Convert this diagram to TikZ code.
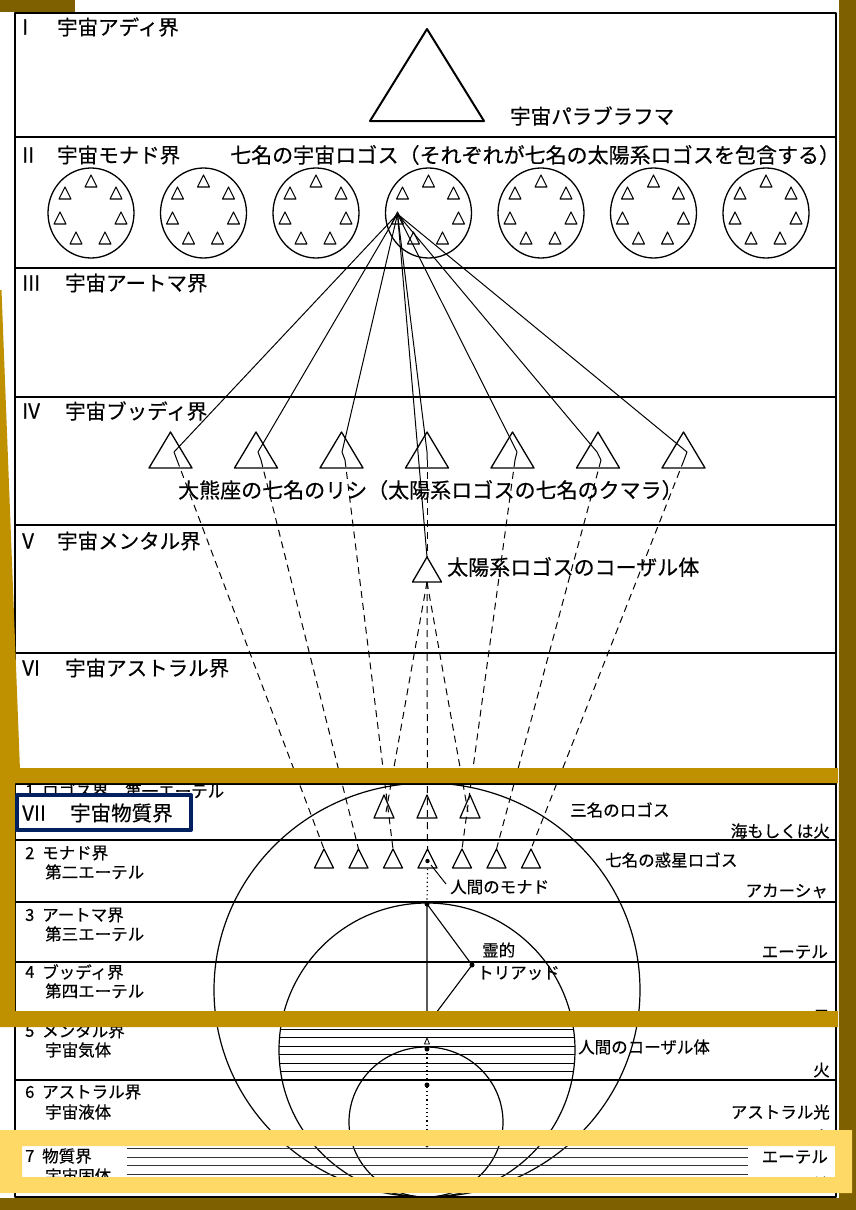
\documentclass[tikz,border=0pt]{standalone}
\usepackage{fontspec}
\setmainfont{Noto Sans CJK JP}[FakeBold=0.4]
\definecolor{gold}{HTML}{BF9000}
\definecolor{olivebd}{HTML}{7F6000}
\definecolor{ylw}{HTML}{FFD966}
\definecolor{navybx}{HTML}{002060}
\newcommand\mytri[5]{% name, cx, apex y, half width, height
  \coordinate (#1) at (#2,#3);
  \draw (#2,#3) -- ++(-#4,#5) -- ++(2*#4,0) -- cycle;}
\begin{document}
\begin{tikzpicture}[x=1pt,y=-1pt,line join=round,
  frame/.style={line width=1.3pt},
  link/.style={line width=1pt},
  dsh/.style={line width=1pt,dash pattern=on 7pt off 5pt},
  dotl/.style={line width=1.2pt,dash pattern=on 1.2pt off 3pt},
  sec/.style={anchor=west,inner sep=0pt,font=\fontsize{20.5}{22}\selectfont},
  secw/.style={anchor=west,inner sep=0pt,font=\fontsize{21}{22}\selectfont},
  sub/.style={anchor=west,inner sep=0pt,font=\fontsize{16.5}{18}\selectfont},
  rlab/.style={anchor=east,inner sep=0pt,font=\fontsize{16.5}{18}\selectfont},
]
\useasboundingbox (0,0) rectangle (856,1210);
\fill[white] (0,0) rectangle (856,1210);

% frame and plane lines
\draw[frame] (15,13) rectangle (836,1197);
\foreach \yy in {137,268,397,525,653,784,840,902,962,1022,1080,1138}{
  \draw[frame] (15,\yy) -- (836,\yy);
}

% ---- I
\begin{scope}[line width=2pt]
\mytri{brahma}{427}{29}{57}{92}
\end{scope}
\node[sec] (n1) at (22,27) {I};
\node[sec] (t1) at (57,27) {宇宙アディ界};
\node[sec] (para) at (510,116) {宇宙パラブラフマ};

% ---- II
\node[sec] (n2) at (22,155) {II};
\node[sec] (t2) at (57,155) {宇宙モナド界};
\node[secw] (t2b) at (230,155) {七名の宇宙ロゴス（それぞれが七名の太陽系ロゴスを包含する）};
\foreach \k/\cx in {1/91,2/203.5,3/316,4/428.5,5/541,6/653.5,7/766}{
  \draw[line width=1.3pt] (\cx,213) ellipse [x radius=43pt, y radius=45pt];
  \begin{scope}[line width=1.1pt]
  \foreach \m/\dx/\dy in {a/0/-32,b/-26/-20,c/25/-20,d/-31/5,e/30/5,f/-15/25,g/14/25}{
    \mytri{c\k\m}{\cx+\dx}{213+\dy-6}{6}{12}
  }
  \end{scope}
}
\coordinate (S) at (397.5,214);

% ---- III, IV
\node[sec] (n3) at (22,283) {III};
\node[sec] (t3) at (65,283) {宇宙アートマ界};
\node[sec] (n4) at (22,411) {IV};
\node[sec] (t4) at (65,411) {宇宙ブッディ界};
\begin{scope}[line width=1.3pt]
\foreach \i/\x in {1/170.5,2/256,3/341.5,4/427,5/512.5,6/598,7/683.5}{
  \mytri{R\i}{\x}{432}{21.5}{36}
}
\end{scope}
\node[secw] (rishi) at (178,490) {大熊座の七名のリシ（太陽系ロゴスの七名のクマラ）};

% kink points inside the rishi triangles
\foreach \i/\px/\qx in {1/174/177,2/258/261,3/342/345,4/427/427,5/517/515,6/597/601,7/687/684}{
  \coordinate (P\i) at (\px,452);
  \coordinate (Q\i) at (\qx,460);
}

% ---- V
\node[sec] (n5) at (22,541) {V};
\node[sec] (t5) at (57,541) {宇宙メンタル界};
\begin{scope}[line width=1.3pt]
\mytri{Vt}{427}{557}{14.5}{25}
\end{scope}
\coordinate (Vb) at (427,582);
\node[secw] (causalS) at (447,567) {太陽系ロゴスのコーザル体};

% ---- VI
\node[sec] (n6) at (22,668) {VI};
\node[sec] (t6) at (65,668) {宇宙アストラル界};

% ---- VII: three logoi and planetary logoi
\begin{scope}[line width=1.2pt]
\foreach \j/\x in {1/384,2/427,3/470}{
  \mytri{L\j}{\x}{795}{10}{23}
}
\foreach \j/\x in {1/324,2/358.5,3/393,4/427.5,5/462,6/496.5,7/531}{
  \mytri{T\j}{\x}{849}{9.5}{19}
}
\end{scope}
\coordinate (L1in) at (386,812);
\coordinate (L3in) at (468,812);

% solid lines from the cosmic logos
\foreach \i in {1,2,3,4,5,6,7}{
  \draw[link] (S) -- (P\i) -- (Q\i);
}
\draw[link] (S) -- (Vt);
% dashed lines
\foreach \i in {1,2,3,5,6,7}{
  \draw[dsh] (Q\i) -- (T\i);
}
\draw[dsh] (Q4) -- (Vt);
\draw[dsh] (Vb) -- (L1in);
\draw[dsh] (Vb) -- (T4);
\draw[dsh] (Vb) -- (L3in);

% monad
\coordinate (mon) at (427.5,861);
\fill (mon) circle (2.2pt);
\node[sub] (monL) at (450,887) {人間のモナド};
\coordinate (monE) at (446,884);
\draw[link] (monE) -- (431,865);
\coordinate (A) at (427,904);
\coordinate (B) at (472,965);
\coordinate (C) at (427,1025);
\draw[dotl] (427.5,869) -- (A);
\draw[line width=1.1pt] (A) -- (B) -- (C) -- cycle;
\fill (A) circle (2.5pt);
\fill (B) circle (2.5pt);

% eggs
\draw[line width=1.2pt] (427,990) ellipse [x radius=213pt, y radius=207pt];
\draw[line width=1.2pt] (427,1050) ellipse [x radius=148pt, y radius=147pt];
\draw[line width=1.2pt] (426,1122) ellipse [x radius=77pt, y radius=75pt];
\begin{scope}
  \clip (427,1050) ellipse [x radius=148pt, y radius=147pt];
  \foreach \yy in {1029,1037.5,1046,1054.5,1063,1071.5}{
    \draw[line width=0.9pt] (250,\yy) -- (600,\yy);
  }
\end{scope}
\foreach \yy in {1140,1148.5,1157,1165.5,1174,1182.5,1191}{
  \draw[line width=0.9pt,black!80] (127,\yy) -- (748,\yy);
}

\coordinate (D1) at (427,1049);
\coordinate (D2) at (427,1085);
\coordinate (D3) at (427,1146);
\draw[line width=0.8pt,fill=white] (427,1038) -- ++(-2.5,6) -- ++(5,0) -- cycle;
\draw[dotl] (D1) -- (D2) -- (D3);
\fill (D1) circle (2.5pt);
\fill (D2) circle (2.5pt);
\fill (D3) circle (1.6pt);

% sub-plane labels
\node[sub] at (25,791) {1};
\node[sub] at (42,791) {ロゴス界};
\node[sub] at (125,791) {第一エーテル};
\node[sub] at (25,853) {2};
\node[sub] at (42,853) {モナド界};
\node[sub] at (45,872) {第二エーテル};
\node[sub] at (25,915) {3};
\node[sub] at (42,915) {アートマ界};
\node[sub] at (45,934) {第三エーテル};
\node[sub] at (25,972) {4};
\node[sub] at (42,972) {ブッディ界};
\node[sub] at (45,991) {第四エーテル};
\node[sub] at (25,1031) {5};
\node[sub] at (42,1031) {メンタル界};
\node[sub] at (45,1050) {宇宙気体};
\node[sub] at (25,1092) {6};
\node[sub] at (42,1092) {アストラル界};
\node[sub] at (45,1112) {宇宙液体};
\node[sub] at (25,1156) {7};
\node[sub] at (42,1156) {物質界};
\node[sub] at (45,1176) {宇宙固体};

% right labels
\node[sub] at (570,810) {三名のロゴス};
\node[rlab] at (830,831) {海もしくは火};
\node[sub] at (605,860) {七名の惑星ロゴス};
\node[rlab] at (828,891) {アカーシャ};
\node[sub] at (482,950) {霊的};
\node[sub] at (477,973) {トリアッド};
\node[rlab] at (828,952) {エーテル};
\node[rlab] at (830,1017) {風};
\node[sub] at (578,1047) {人間のコーザル体};
\node[rlab] at (830,1070) {火};
\node[rlab] at (830,1112) {アストラル光};
\node[rlab] at (830,1137) {水};
\node[rlab] at (828,1157) {エーテル};
\node[rlab] at (830,1184) {地};

% overlays
\fill[gold] (0,290) -- (1.5,290) -- (20,770) -- (0,770) -- cycle;
\fill[gold,even odd rule] (0,768) rectangle (838,1027) (15,783) rectangle (838,1011);
\draw[navybx,line width=4pt,fill=white] (17,795) rectangle (191,830);
\node[sec] (n7) at (22,813) {VII};
\node[sec] (t7) at (70,813) {宇宙物質界};
\fill[olivebd] (0,0) rectangle (75,12);
\fill[olivebd] (839,0) rectangle (856,1210);
\fill[olivebd] (0,1198) rectangle (856,1210);
\fill[ylw,even odd rule] (0,1130) rectangle (852,1193) (22,1146) rectangle (835,1177);
\end{tikzpicture}
\end{document}
